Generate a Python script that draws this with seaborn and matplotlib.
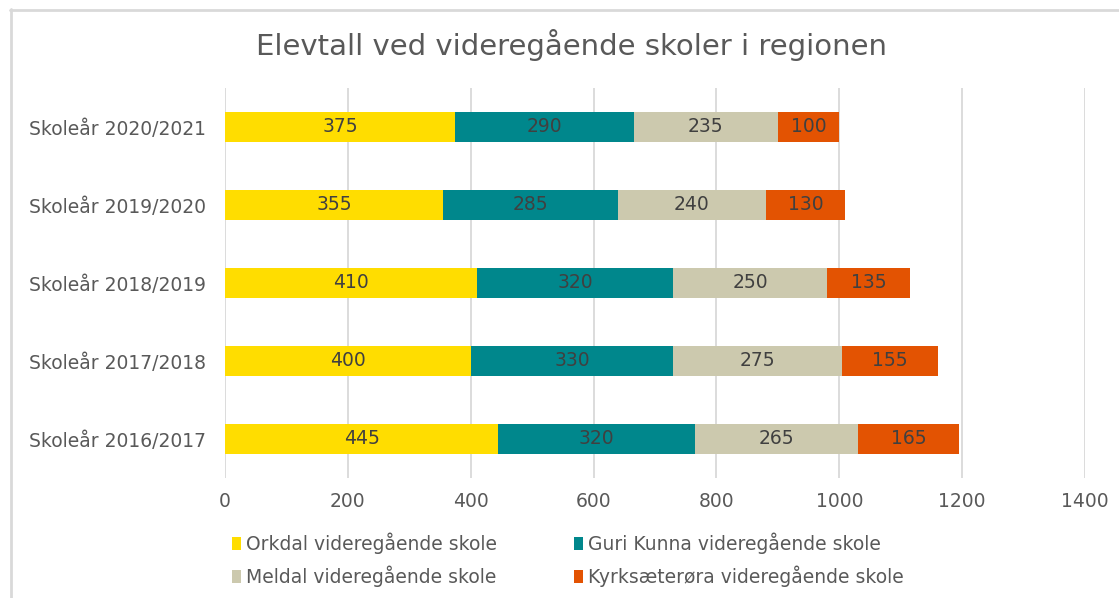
import matplotlib
matplotlib.use("Agg")
import matplotlib.pyplot as plt
import seaborn as sns
import pandas as pd
import numpy as np
from matplotlib.patches import Patch
from matplotlib.lines import Line2D

title = "Elevtall ved videregående skoler i regionen"
categories = ["Skoleår 2020/2021", "Skoleår 2019/2020", "Skoleår 2018/2019",
              "Skoleår 2017/2018", "Skoleår 2016/2017"]
series_names = ["Orkdal videregående skole", "Guri Kunna videregående skole",
                "Meldal videregående skole", "Kyrksæterøra videregående skole"]
orkdal = [375, 355, 410, 400, 445]
guri = [290, 285, 320, 330, 320]
meldal = [235, 240, 250, 275, 265]
kyrks = [100, 130, 135, 155, 165]
colors = ["#FFDD00", "#00878C", "#CCC9AE", "#E35302"]
x_ticks = [0, 200, 400, 600, 800, 1000, 1200, 1400]

sns.set_theme(style="white")
plt.rcParams['font.family'] = ['DejaVu Sans']

fig = plt.figure(figsize=(11.19, 5.98), dpi=100)
ax = fig.add_axes([225/1119, 1-478/598, (1085-225)/1119, (478-88)/598])

series = [orkdal, guri, meldal, kyrks]
cums = np.cumsum(np.array(series, dtype=float), axis=0)

# draw from largest cumulative to smallest so each segment shows
for i in range(len(series)-1, -1, -1):
    df = pd.DataFrame({"cat": categories, "val": cums[i]})
    sns.barplot(data=df, x="val", y="cat", orient="h", color=colors[i],
                width=0.38, saturation=1, ax=ax, zorder=3, linewidth=0)

for i, vals in enumerate(series):
    for j, v in enumerate(vals):
        cx = cums[i][j] - v / 2
        ax.text(cx, j, str(v), ha="center", va="center", fontsize=13.5,
                color="#404040", zorder=4)

ax.set_xlim(0, 1400)
ax.set_xticks(x_ticks)
ax.set_xticklabels([str(t) for t in x_ticks])
ax.set_ylim(4.5, -0.5)
ax.set_xlabel("")
ax.set_ylabel("")
ax.grid(axis="x", color="#D9D9D9", linewidth=1.3, zorder=0)
ax.grid(axis="y", visible=False)
for s in ax.spines.values():
    s.set_visible(False)
ax.tick_params(axis="both", length=0, labelsize=13.5, colors="#595959")
ax.tick_params(axis="x", pad=10)
ax.tick_params(axis="y", pad=14)

fig.text(572/1119, 1-45/598, title, ha="center", va="center", fontsize=21, color="#595959")

handles = [Patch(facecolor=c, edgecolor="none") for c in colors]
order = [0, 2, 1, 3]
fig.legend([handles[k] for k in order], [series_names[k] for k in order],
           ncol=2, loc="center left", bbox_to_anchor=(232/1119, 1-560/598),
           frameon=False, fontsize=13.5, labelcolor="#595959",
           handlelength=0.5, handleheight=0.7, handletextpad=0.25,
           columnspacing=4.1, labelspacing=0.62, borderaxespad=0, borderpad=0)

# outer chart border (top and left visible)
fig.add_artist(Line2D([10/1119, 1], [1-9.5/598, 1-9.5/598], transform=fig.transFigure,
                      color="#D9D9D9", linewidth=2))
fig.add_artist(Line2D([10.5/1119, 10.5/1119], [0, 1-9/598], transform=fig.transFigure,
                      color="#D9D9D9", linewidth=2))

fig.savefig("out.png", dpi=100, facecolor="white")
